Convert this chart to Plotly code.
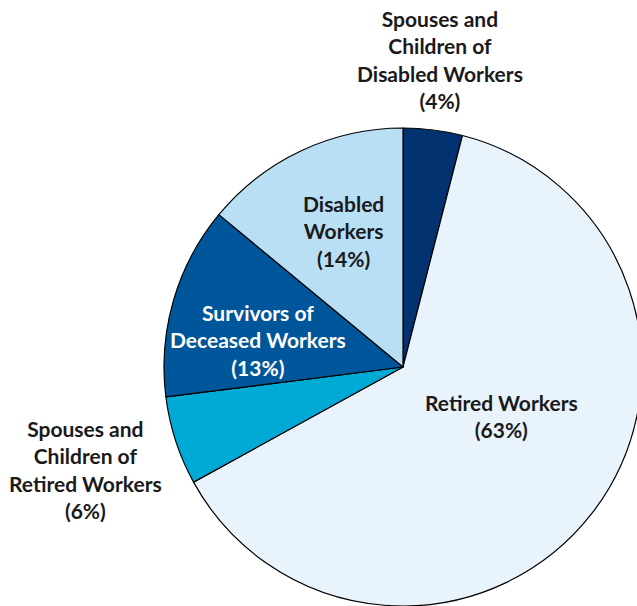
import plotly.graph_objects as go

# Data
categories = [
    "Spouses and Children of Disabled Workers",
    "Retired Workers",
    "Spouses and Children of Retired Workers",
    "Survivors of Deceased Workers",
    "Disabled Workers",
]
display_names = [
    "Spouses and<br>Children of<br>Disabled Workers",
    "Retired Workers",
    "Spouses and<br>Children of<br>Retired Workers",
    "Survivors of<br>Deceased Workers",
    "Disabled<br>Workers",
]
shares = [4, 63, 6, 13, 14]

colors = ["#023370", "#e8f3fc", "#01a9d5", "#00569a", "#b8dff4"]
text_colors = ["#1a1a1a", "#1a1a1a", "#1a1a1a", "#ffffff", "#1a1a1a"]

# figure canvas slightly larger than the window; the window crops it
W, H = 650, 620

# label anchor positions on screen, in pixels (x, y)
label_px = [(440, 59), (501, 416), (85, 469), (258, 340), (343, 231)]

# pie placement: center and radius in pixels
cx, cy, r = 403, 367, 239

fig = go.Figure(
    go.Pie(
        labels=categories,
        values=shares,
        sort=False,
        direction="clockwise",
        rotation=0,
        marker=dict(colors=colors, line=dict(color="#000000", width=1.2)),
        textinfo="none",
        hoverinfo="label+percent",
        showlegend=False,
        domain=dict(
            x=[(cx - r) / W, (cx + r) / W],
            y=[1 - (cy + r) / H, 1 - (cy - r) / H],
        ),
    )
)

font_family = "Lato, 'Open Sans', sans-serif"
for name, v, (px, py), tc in zip(display_names, shares, label_px, text_colors):
    fig.add_annotation(
        x=px / W,
        y=1 - py / H,
        xref="paper",
        yref="paper",
        text=f"<b>{name}<br>({v}%)</b>",
        showarrow=False,
        xanchor="center",
        yanchor="middle",
        align="center",
        font=dict(family=font_family, size=21, color=tc),
    )

fig.update_layout(
    width=W,
    height=H,
    margin=dict(l=0, r=0, t=0, b=0),
    paper_bgcolor="#ffffff",
    plot_bgcolor="#ffffff",
)

fig.write_html(
    "out.html",
    config={"displayModeBar": False},
    post_script=(
        "document.body.style.margin='0';"
        "document.body.style.overflow='hidden';"
        "document.documentElement.style.overflow='hidden';"
    ),
)
